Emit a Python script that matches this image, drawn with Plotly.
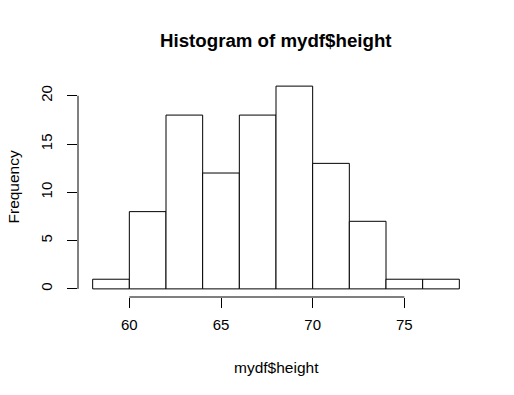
import plotly.graph_objects as go

breaks = [58, 60, 62, 64, 66, 68, 70, 72, 74, 76, 78]
counts = [1, 8, 18, 12, 18, 21, 13, 7, 1, 1]
x_ticks = [60, 65, 70, 75]
y_ticks = [0, 5, 10, 15, 20]

mids = [(breaks[i] + breaks[i + 1]) / 2 for i in range(len(counts))]
widths = [breaks[i + 1] - breaks[i] for i in range(len(counts))]

FONT = "Liberation Sans, Arial, sans-serif"

fig = go.Figure()
fig.add_trace(go.Bar(
    x=mids, y=counts, width=widths,
    marker=dict(color="white", line=dict(color="black", width=1)),
    hoverinfo="x+y",
))

xr = breaks[-1] - breaks[0]
yr = max(counts)
fig.update_layout(
    width=514, height=395,
    margin=dict(l=78, r=40, t=78, b=98),
    paper_bgcolor="white", plot_bgcolor="white",
    showlegend=False,
    font=dict(family=FONT, size=15, color="black"),
    xaxis=dict(
        range=[breaks[0] - 0.04 * xr, breaks[-1] + 0.04 * xr],
        tickvals=x_ticks, ticks="outside", ticklen=10, tickwidth=1,
        tickcolor="black", showgrid=False, zeroline=False, showline=False,
        tickfont=dict(size=15), ticklabelstandoff=4,
    ),
    yaxis=dict(
        range=[-0.04 * yr, yr * 1.04],
        tickvals=y_ticks, ticks="outside", ticklen=10, tickwidth=1,
        tickcolor="black", showgrid=False, zeroline=False, showline=False,
        tickangle=-90, tickfont=dict(size=15), ticklabelstandoff=9,
    ),
    shapes=[
        dict(type="line", xref="x", yref="paper", x0=min(x_ticks), x1=max(x_ticks),
             y0=0, y1=0, line=dict(color="black", width=1)),
        dict(type="line", xref="paper", yref="y", x0=0, x1=0,
             y0=min(y_ticks), y1=max(y_ticks), line=dict(color="black", width=1)),
    ],
    annotations=[
        dict(text="<b>Histogram of mydf$height</b>", xref="paper", yref="paper",
             x=0.5, y=1, yshift=38, showarrow=False, yanchor="middle",
             font=dict(size=18.7, family=FONT)),
        dict(text="mydf$height", xref="paper", yref="paper", x=0.5, y=0,
             yshift=-70, showarrow=False, yanchor="middle",
             font=dict(size=15.5, family=FONT)),
        dict(text="Frequency", xref="paper", yref="paper", x=0, y=0.5,
             xshift=-65, showarrow=False, xanchor="center", yanchor="middle",
             textangle=-90, font=dict(size=15.5, family=FONT)),
    ],
)

fig.write_html("out.html", config={"displayModeBar": False},
               post_script="document.body.style.margin='0';")
